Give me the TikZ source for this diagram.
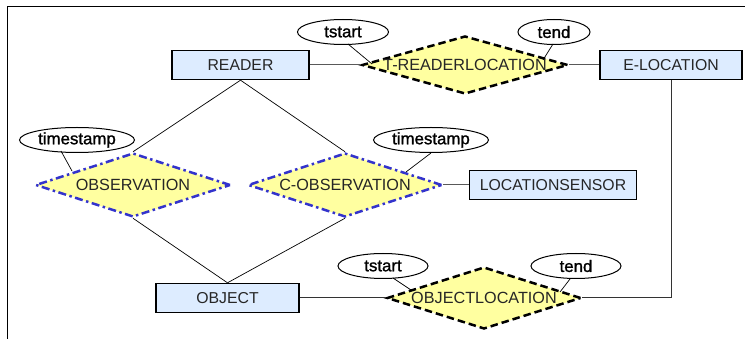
\documentclass[tikz,border=0pt]{standalone}
\usepackage{fontspec}
\setmainfont{Liberation Sans}
\newfontfamily\attrfont[FakeBold=1.3,FakeStretch=1.02]{Liberation Sans}
\usetikzlibrary{shapes.geometric,calc}

\definecolor{entfill}{RGB}{221,236,255}
\definecolor{relfill}{RGB}{255,255,160}
\definecolor{relblue}{RGB}{51,51,204}

\tikzset{
  entity/.style={rectangle, draw=black, line width=1.4pt, fill=entfill,
    inner sep=0pt, minimum height=29pt, text=black!85,
    font=\fontsize{15.8}{18}\selectfont},
  relbase/.style={diamond, inner sep=0pt, fill=relfill, line width=2.5pt,
    text=black!85, font=\fontsize{16.2}{18}\selectfont},
  reldash/.style={relbase, draw=black, dash pattern=on 7.5pt off 4pt},
  reldot/.style={relbase, draw=relblue, dash pattern=on 8pt off 3.5pt on 2.5pt off 3.5pt},
  attrib/.style={ellipse, draw=black, line width=1pt, fill=white,
    inner sep=0pt, minimum height=25pt, text=black,
    font=\attrfont\fontsize{16.5}{18}\selectfont},
  link/.style={draw=black!65, line width=1pt},
  thin/.style={draw=black, line width=0.7pt},
}

\begin{document}
\begin{tikzpicture}[x=1pt, y=-1pt]
  \useasboundingbox (0,0) rectangle (745,339);

  % outer frame (top and left edges)
  \draw[line width=1pt] (745,7) -- (7,7) -- (7,339);

  % entities
  \node[entity, minimum width=137pt] (reader) at (240.5,65) {READER};
  \node[entity, minimum width=142pt] (eloc)   at (671,65)   {E-LOCATION};
  \node[entity, minimum width=167pt] (lsens)  at (553,185)  {LOCATIONSENSOR};
  \node[entity, minimum width=143pt] (object) at (227.5,298) {OBJECT};

  % relationships
  \node[reldash, minimum width=206pt, minimum height=58pt] (trl) at (465,65)
    {\makebox[0pt]{T-READERLOCATION}};
  \node[reldot, minimum width=195pt, minimum height=64pt] (obs) at (133,185)
    {\makebox[0pt]{OBSERVATION}};
  \node[reldot, minimum width=194pt, minimum height=64pt] (cobs) at (345,185)
    {\makebox[0pt]{C-OBSERVATION}};
  \node[reldash, minimum width=194pt, minimum height=62pt] (ol) at (484,298)
    {\makebox[0pt]{OBJECTLOCATION}};

  % attributes
  \node[attrib, minimum width=91pt] (ts1) at (343,32)  {tstart};
  \node[attrib, minimum width=72pt] (te1) at (554,32)  {tend};
  \node[attrib, minimum width=115pt] (tsl) at (77,140) {timestamp};
  \node[attrib, minimum width=115pt] (tsr) at (431,140) {timestamp};
  \node[attrib, minimum width=90pt] (ts2) at (383,266) {tstart};
  \node[attrib, minimum width=90pt] (te2) at (576,266) {tend};

  % entity--relationship connectors
  \draw[link] (reader.east) -- (trl.west);
  \draw[link] (trl.east) -- (eloc.west);
  \draw[link] (cobs.east) -- (lsens.west);
  \draw[link, draw=black!80] (object.east) -- (ol.west);
  \draw[link, draw=black!80] (ol.east) -| (eloc.south);
  \draw[thin] (reader.south) -- (obs.north);
  \draw[thin] (reader.south) -- (cobs.north);
  \draw[thin] (obs.south) -- (object.north);
  \draw[thin] (cobs.south) -- (object.north);

  % attribute connectors
  \draw[thin] ($(ts1.center)+(5,12)$) -- ($(trl.center)+(-93,-1)$);
  \draw[thin] ($(te1.center)+(-1,12)$) -- ($(trl.center)+(78,-5)$);
  \draw[thin] ($(tsl.center)+(-16,11)$) -- ($(obs.center)+(-61,-14)$);
  \draw[thin] (tsr.south) -- ($(cobs.center)+(61,-13)$);
  \draw[thin] ($(ts2.center)+(10,12)$) -- ($(ol.center)+(-73,-8)$);
  \draw[thin] ($(te2.center)+(-6,13)$) -- ($(ol.center)+(76,-6)$);
\end{tikzpicture}
\end{document}
